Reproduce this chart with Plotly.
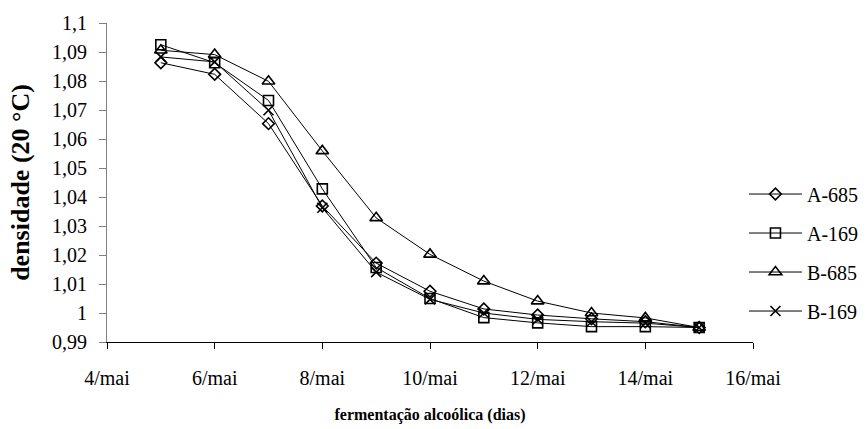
import plotly.graph_objects as go

days = [5, 6, 7, 8, 9, 10, 11, 12, 13, 14, 15]
a685 = [1.0863, 1.0823, 1.0653, 1.0369, 1.0172, 1.0075, 1.0014, 0.9993, 0.9980, 0.9970, 0.9950]
a169 = [1.0925, 1.0863, 1.0733, 1.0428, 1.0157, 1.0050, 0.9984, 0.9966, 0.9953, 0.9953, 0.9950]
b685 = [1.0906, 1.0891, 1.0799, 1.0559, 1.0328, 1.0202, 1.0110, 1.0041, 1.0000, 0.9983, 0.9950]
b169 = [1.0883, 1.0866, 1.0699, 1.0363, 1.0141, 1.0047, 1.0000, 0.9978, 0.9970, 0.9965, 0.9950]

series_names = ["A-685", "A-169", "B-685", "B-169"]
series_vals = [a685, a169, b685, b169]
symbols = ["diamond-open", "square-open", "triangle-up-open", "x-thin-open"]
sizes = [9, 10, 11, 10]

x_tickvals = [4, 6, 8, 10, 12, 14, 16]
x_ticktext = ["4/mai", "6/mai", "8/mai", "10/mai", "12/mai", "14/mai", "16/mai"]
y_tickvals = [0.99, 1.0, 1.01, 1.02, 1.03, 1.04, 1.05, 1.06, 1.07, 1.08, 1.09, 1.1]
y_ticktext = ["0,99", "1", "1,01", "1,02", "1,03", "1,04", "1,05", "1,06", "1,07", "1,08", "1,09", "1,1"]

font = "Liberation Serif"

fig = go.Figure()
for i, (name, vals) in enumerate(zip(series_names, series_vals)):
    fig.add_trace(go.Scatter(
        x=days, y=vals, name=name, mode="lines+markers",
        line=dict(color="black", width=1),
        marker=dict(symbol=symbols[i], size=sizes[i], color="black",
                    line=dict(color="black", width=1.6)),
        legendgroup=name,
    ))

fig.update_layout(
    width=868, height=429,
    margin=dict(l=107, r=115, t=23, b=87, autoexpand=False),
    paper_bgcolor="white", plot_bgcolor="white",
    font=dict(family=font, size=20, color="black"),
    showlegend=True,
    legend=dict(x=0.986, y=0.525, xanchor="left", yanchor="top",
                traceorder="grouped", tracegroupgap=10,
                font=dict(family=font, size=20, color="black"),
                bgcolor="rgba(0,0,0,0)", itemwidth=53),
    xaxis=dict(range=[4, 16], tickvals=x_tickvals, ticktext=x_ticktext,
               showgrid=False, zeroline=False, showline=True,
               linecolor="black", linewidth=1, ticks="outside", ticklen=6,
               tickcolor="black", ticklabelstandoff=12,
               tickfont=dict(family=font, size=20),
               title=dict(text="fermentação alcoólica (dias)",
                          font=dict(family=font, size=16, weight="bold"),
                          standoff=20)),
    yaxis=dict(range=[0.99, 1.1], tickvals=y_tickvals, ticktext=y_ticktext,
               showgrid=False, zeroline=False, showline=True,
               linecolor="#808080", linewidth=1, ticks="outside", ticklen=7,
               tickcolor="#808080", ticklabelstandoff=8,
               tickfont=dict(family=font, size=20),
               title=dict(text="densidade (20 °C)",
                          font=dict(family=font, size=26, weight="bold"),
                          standoff=14)),
)

fig.write_html("out.html")
